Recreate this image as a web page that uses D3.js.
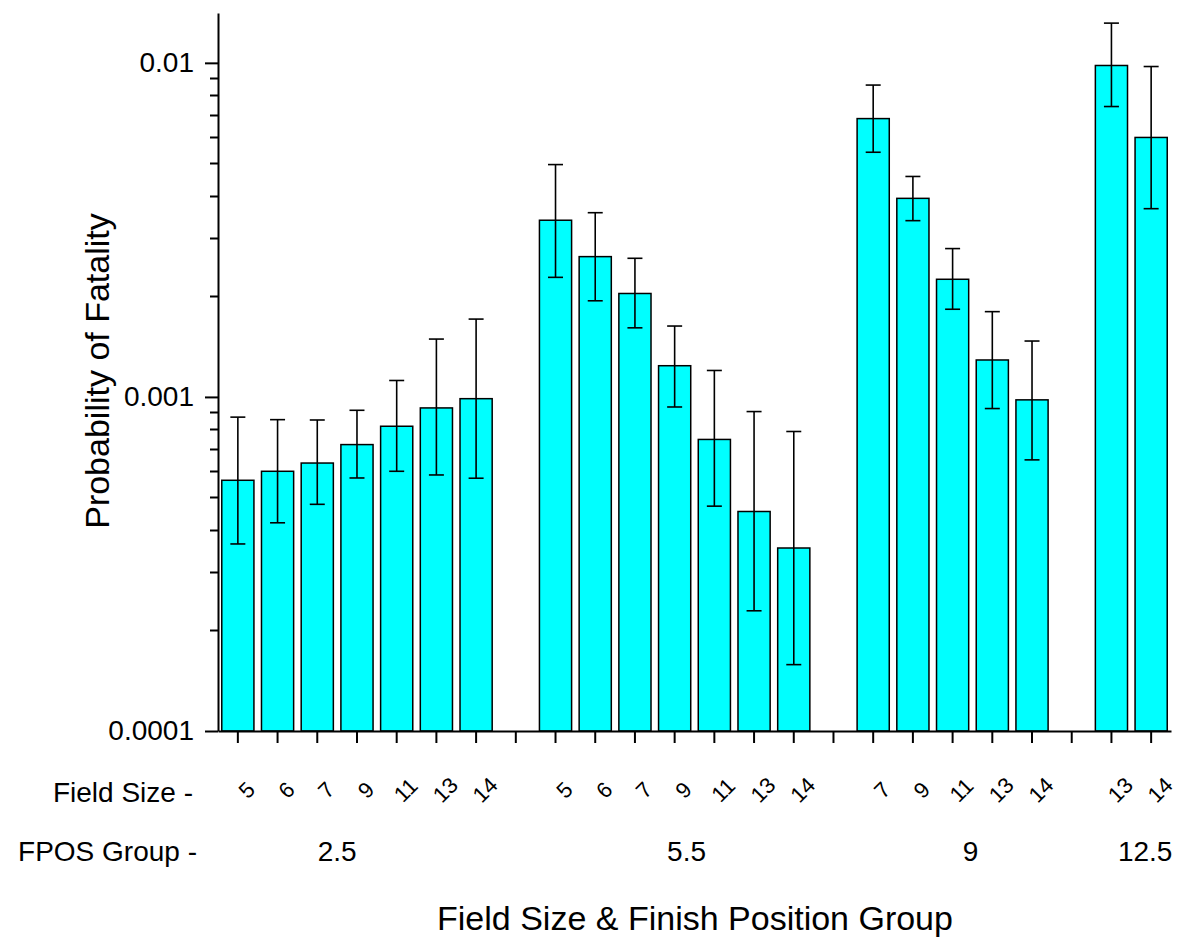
<!DOCTYPE html>
<html>
<head>
<meta charset="utf-8">
<script src="https://cdn.jsdelivr.net/npm/d3@7"></script>
<style>
  body { margin: 0; background: #fff; }
  svg { display: block; font-family: Arial, "Liberation Sans", sans-serif; }
</style>
</head>
<body>
<svg id="chart" width="1179" height="938"></svg>
<script>
// DATA
const fposGroups = ["2.5", "5.5", "9", "12.5"];
const fieldSizes = [
  [5, 6, 7, 9, 11, 13, 14],
  [5, 6, 7, 9, 11, 13, 14],
  [7, 9, 11, 13, 14],
  [13, 14],
];
const probability = [
  [0.000563, 0.000599, 0.000634, 0.00072, 0.000817, 0.000927, 0.000988],
  [0.00338, 0.00263, 0.00204, 0.00124, 0.000746, 0.000454, 0.000353],
  [0.00681, 0.00393, 0.00225, 0.00129, 0.00098],
  [0.00982, 0.00598],
];
const upper = [
  [0.00087, 0.000855, 0.000853, 0.000912, 0.00112, 0.00149, 0.00171],
  [0.00496, 0.00356, 0.0026, 0.00163, 0.0012, 0.000904, 0.000788],
  [0.00858, 0.00457, 0.00278, 0.0018, 0.00147],
  [0.01315, 0.00975],
];
const lower = [
  [0.000363, 0.00042, 0.000477, 0.000572, 0.000599, 0.000584, 0.000571],
  [0.00228, 0.00194, 0.00161, 0.000933, 0.000471, 0.000229, 0.000158],
  [0.0054, 0.00337, 0.00183, 0.000923, 0.000648],
  [0.0074, 0.00366],
];
const yMajorTicks = [0.0001, 0.001, 0.01];
const yTickLabels = ["0.0001", "0.001", "0.01"];

// where the FPOS group labels sit, in slot units
const fposLabelAt = [2.5, 11.3, 18.45, 22.85];

// CANVAS SETUP
const svg = d3.select("#chart");
const margin = { top: 13, right: 8, bottom: 207, left: 218 },
  width = +svg.attr("width") - margin.left - margin.right,
  height = +svg.attr("height") - margin.top - margin.bottom;

// one slot per bar, with an empty slot between groups
const slots = [];
fieldSizes.forEach((sizes, gi) => {
  if (gi > 0) slots.push({ id: `gap${gi}`, blank: true });
  sizes.forEach((fs, i) => {
    slots.push({
      id: `g${gi}_${i}`,
      group: fposGroups[gi],
      fieldSize: fs,
      value: probability[gi][i],
      hi: upper[gi][i],
      lo: lower[gi][i],
    });
  });
});
const bars = slots.filter((d) => !d.blank);

const x = d3
  .scaleBand()
  .domain(slots.map((d) => d.id))
  .range([margin.left, margin.left + width])
  .paddingInner(0.19)
  .paddingOuter(0.095);

const y = d3
  .scaleLog()
  .domain([0.0001, 0.0141])
  .range([margin.top + height, margin.top]);

const slotX = (i) => margin.left + x.step() * (i + 0.5);

// BARS
svg
  .append("g")
  .selectAll("rect")
  .data(bars)
  .join("rect")
  .attr("x", (d) => x(d.id))
  .attr("width", x.bandwidth())
  .attr("y", (d) => y(d.value))
  .attr("height", (d) => y(0.0001) - y(d.value))
  .attr("fill", "#00ffff")
  .attr("stroke", "#000")
  .attr("stroke-width", 1.5);

// ERROR BARS
const capW = 15;
const err = svg
  .append("g")
  .attr("stroke", "#000")
  .attr("stroke-width", 1.6)
  .selectAll("g")
  .data(bars)
  .join("g")
  .attr("transform", (d) => `translate(${x(d.id) + x.bandwidth() / 2},0)`);

err
  .append("line")
  .attr("y1", (d) => y(d.hi))
  .attr("y2", (d) => y(d.lo));
err
  .append("line")
  .attr("x1", -capW / 2)
  .attr("x2", capW / 2)
  .attr("y1", (d) => y(d.hi))
  .attr("y2", (d) => y(d.hi));
err
  .append("line")
  .attr("x1", -capW / 2)
  .attr("x2", capW / 2)
  .attr("y1", (d) => y(d.lo))
  .attr("y2", (d) => y(d.lo));

// Y AXIS
const minorTicks = [];
[0.0001, 0.001].forEach((base) => {
  for (let k = 2; k <= 9; k++) minorTicks.push(base * k);
});

svg
  .append("g")
  .attr("stroke", "#000")
  .attr("stroke-width", 2)
  .selectAll("line")
  .data(minorTicks)
  .join("line")
  .attr("x1", margin.left - 8)
  .attr("x2", margin.left)
  .attr("y1", (d) => Math.round(y(d)) + 0.5)
  .attr("y2", (d) => Math.round(y(d)) + 0.5);

const gy = svg
  .append("g")
  .attr("transform", `translate(${margin.left},0)`)
  .call(
    d3
      .axisLeft(y)
      .tickValues(yMajorTicks)
      .tickSize(13)
      .tickSizeOuter(0)
      .tickPadding(11)
      .tickFormat((d, i) => yTickLabels[i])
  );
gy.select(".domain").attr("stroke-width", 2);
gy.selectAll(".tick line").attr("stroke-width", 2);
gy.selectAll(".tick text")
  .attr("font-size", 28)
  .attr("font-family", "Arial, 'Liberation Sans', sans-serif")
  .attr("fill", "#000");

// X AXIS
const gx = svg
  .append("g")
  .attr("transform", `translate(0,${margin.top + height})`)
  .call(d3.axisBottom(x).tickSize(12).tickSizeOuter(0).tickFormat(""));
gx.select(".domain").attr("stroke-width", 2);
gx.selectAll(".tick line").attr("stroke-width", 2);

// field size labels, rotated
svg
  .append("g")
  .selectAll("text")
  .data(bars)
  .join("text")
  .attr(
    "transform",
    (d) => `translate(${x(d.id) + x.bandwidth() / 2 + 9},790) rotate(-45)`
  )
  .attr("text-anchor", "middle")
  .attr("dominant-baseline", "central")
  .attr("font-size", 22)
  .text((d) => d.fieldSize);

// row headers
svg
  .append("text")
  .attr("x", 193)
  .attr("y", 802)
  .attr("text-anchor", "end")
  .attr("font-size", 28)
  .text("Field Size -");
svg
  .append("text")
  .attr("x", 197)
  .attr("y", 861)
  .attr("text-anchor", "end")
  .attr("font-size", 28)
  .text("FPOS Group -");

// fpos group labels
svg
  .append("g")
  .selectAll("text")
  .data(fposGroups)
  .join("text")
  .attr("x", (d, i) => slotX(fposLabelAt[i]))
  .attr("y", 861)
  .attr("text-anchor", "middle")
  .attr("font-size", 28)
  .text((d) => d);

// axis titles
svg
  .append("text")
  .attr("x", 695)
  .attr("y", 930)
  .attr("text-anchor", "middle")
  .attr("font-size", 34)
  .text("Field Size & Finish Position Group");

svg
  .append("text")
  .attr("transform", "translate(109,371) rotate(-90)")
  .attr("text-anchor", "middle")
  .attr("font-size", 34)
  .text("Probability of Fatality");
</script>
</body>
</html>
